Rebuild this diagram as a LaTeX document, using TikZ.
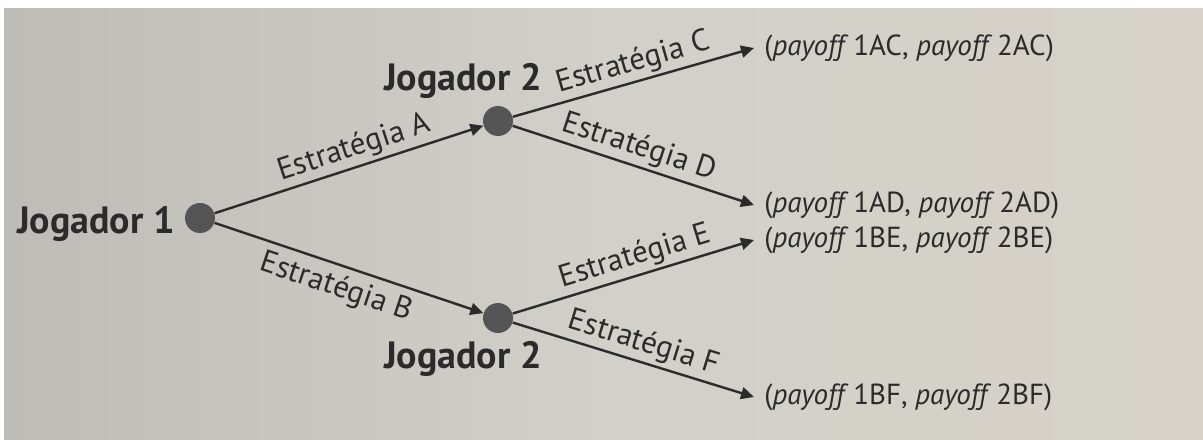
\documentclass[tikz,border=0pt]{standalone}
\usepackage{fontspec}
\setmainfont{PT Sans}
\usetikzlibrary{arrows.meta}
\definecolor{paperL}{HTML}{BEBCB6}
\definecolor{paperM}{HTML}{D2D0C9}
\definecolor{paperR}{HTML}{D6D2C9}
\definecolor{ink}{HTML}{2B2B2B}
\definecolor{dotgray}{HTML}{555555}
\begin{document}
\begin{tikzpicture}[x=0.5pt,y=-0.5pt,
  player/.style={font=\fontsize{19}{22}\selectfont\bfseries, text=ink, inner sep=0},
  decision/.style={circle, fill=dotgray, minimum size=15pt, inner sep=0},
  move/.style={draw=ink, line width=1.2pt, -{Triangle[length=6.5pt,width=6pt]}},
  strat/.style={font=\fontsize{15.5}{18}\selectfont, text=ink, sloped, inner sep=1.5pt},
  result/.style={font=\fontsize{14.5}{17}\selectfont, text=ink, anchor=west, inner xsep=5pt, inner ysep=0pt}]

\useasboundingbox (0,0) rectangle (1203,439);
% paper
\fill[white] (0,0) rectangle (1203,439);
\shade[left color=paperL, right color=paperR, middle color=paperM] (4,8) rectangle (1203,439);

% decision nodes
\node[decision] (root) at (200,218) {};
\node[decision] (up) at (498,121) {};
\node[decision] (down) at (498,318) {};

% player names
\node[player, anchor=base] (p1) at (96,233) {Jogador 1};
\node[player, anchor=base] (p2up) at (463,90) {Jogador 2};
\node[player, anchor=base] (p2down) at (463,368) {Jogador 2};

% outcomes
\node[result] (AC) at (754,48) {(\textit{payoff}\,1AC, \textit{payoff}\,2AC)};
\node[result] (AD) at (754,205) {(\textit{payoff}\,1AD, \textit{payoff}\,2AD)};
\node[result] (BE) at (754,240) {(\textit{payoff}\,1BE, \textit{payoff}\,2BE)};
\node[result] (BF) at (754,397) {(\textit{payoff}\,1BF, \textit{payoff}\,2BF)};

% moves
\draw[move] (root) -- (up) node[strat, pos=0.54, above] {Estratégia A};
\draw[move] (root) -- (down) node[strat, pos=0.48, below, inner sep=3.5pt] {Estratégia B};
\draw[move] (up) -- (AC.west) node[strat, pos=0.52, above] {Estratégia C};
\draw[move] (up) -- (AD.west) node[strat, pos=0.50, above] {Estratégia D};
\draw[move] (down) -- (BE.west) node[strat, pos=0.53, above] {Estratégia E};
\draw[move] (down) -- (BF.west) node[strat, pos=0.52, above] {Estratégia F};
\end{tikzpicture}
\end{document}
